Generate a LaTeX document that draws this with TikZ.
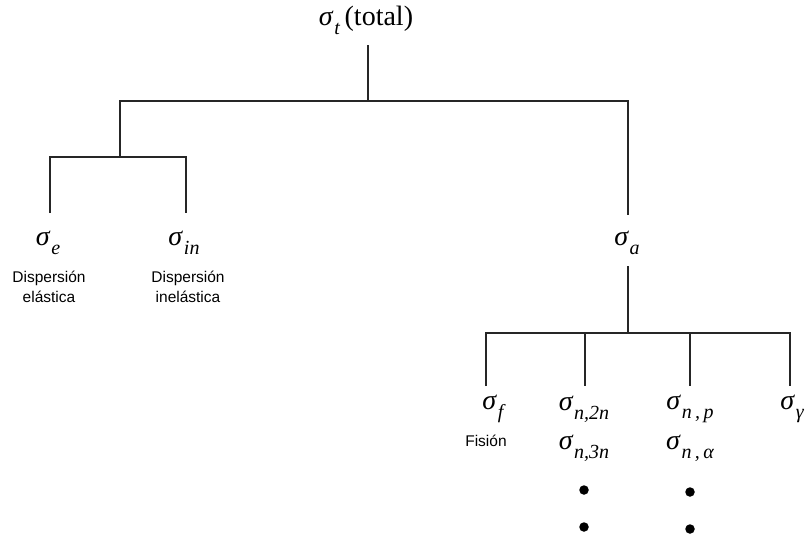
\documentclass[tikz,border=0pt]{standalone}
\usepackage{fontspec}
\setmainfont{Liberation Serif}
\newfontfamily\labelfont{Liberation Sans}
% italic sigma with a lowered italic subscript
\newcommand\xs[1]{{\itshape σ}\kern0.06em\raisebox{-0.32em}{\fontsize{20}{20}\selectfont\itshape #1}}
\begin{document}
\begin{tikzpicture}[x=1pt,y=-1pt,
  wire/.style={draw=black!85,line width=1.7pt},
  sym/.style={inner sep=0pt,font=\fontsize{28}{30}\selectfont},
  note/.style={inner sep=0pt,align=center,font=\labelfont\fontsize{15.5}{20}\selectfont},
  dot/.style={circle,fill=black,inner sep=0pt,minimum size=9.5pt}]
\useasboundingbox (0,0) rectangle (807,539);

% cross-section labels
\node[sym] (t) at (366,20) {\xs{t}\,(total)};
\node[sym] (e) at (48,243) {\xs{e}};
\node[sym] (in) at (184,243) {\xs{in}};
\node[sym] (a) at (627,243) {\xs{a}};
\node[sym] (f) at (493,409) {\xs{f}};
\node[sym] (n2) at (584,409) {\xs{n,2n}};
\node[sym] (np) at (690,409) {\xs{n\,,\,p}};
\node[sym] (g) at (792,409) {\xs{γ}};
\node[sym] (n3) at (584,448) {\xs{n,3n}};
\node[sym] (na) at (690,448) {\xs{n\,,\,α}};

\node[note] (de) at (49,287) {Dispersión\\elástica};
\node[note] (di) at (188,287) {Dispersión\\inelástica};
\node[note] (fi) at (486,441) {Fisión};

\node[dot] (d1) at (584,490) {};
\node[dot] (d2) at (584,527) {};
\node[dot] (d3) at (690,492) {};
\node[dot] (d4) at (690,529) {};

% branch points
\coordinate (top) at (368,101);
\coordinate (sl) at (120,157);
\coordinate (sr) at (628,333);

% top split
\draw[wire] (368,45) -- (top);
\draw[wire] (120,157) -- (120,101) -- (628,101) -- (628,215);
% scattering branch
\draw[wire] (50,213) -- (50,157) -- (186,157) -- (186,213);
% absorption branch
\draw[wire] (628,266) -- (sr);
\draw[wire] (486,386) -- (486,333) -- (790,333) -- (790,386);
\draw[wire] (585,333) -- (585,386);
\draw[wire] (690,333) -- (690,386);
\end{tikzpicture}
\end{document}
